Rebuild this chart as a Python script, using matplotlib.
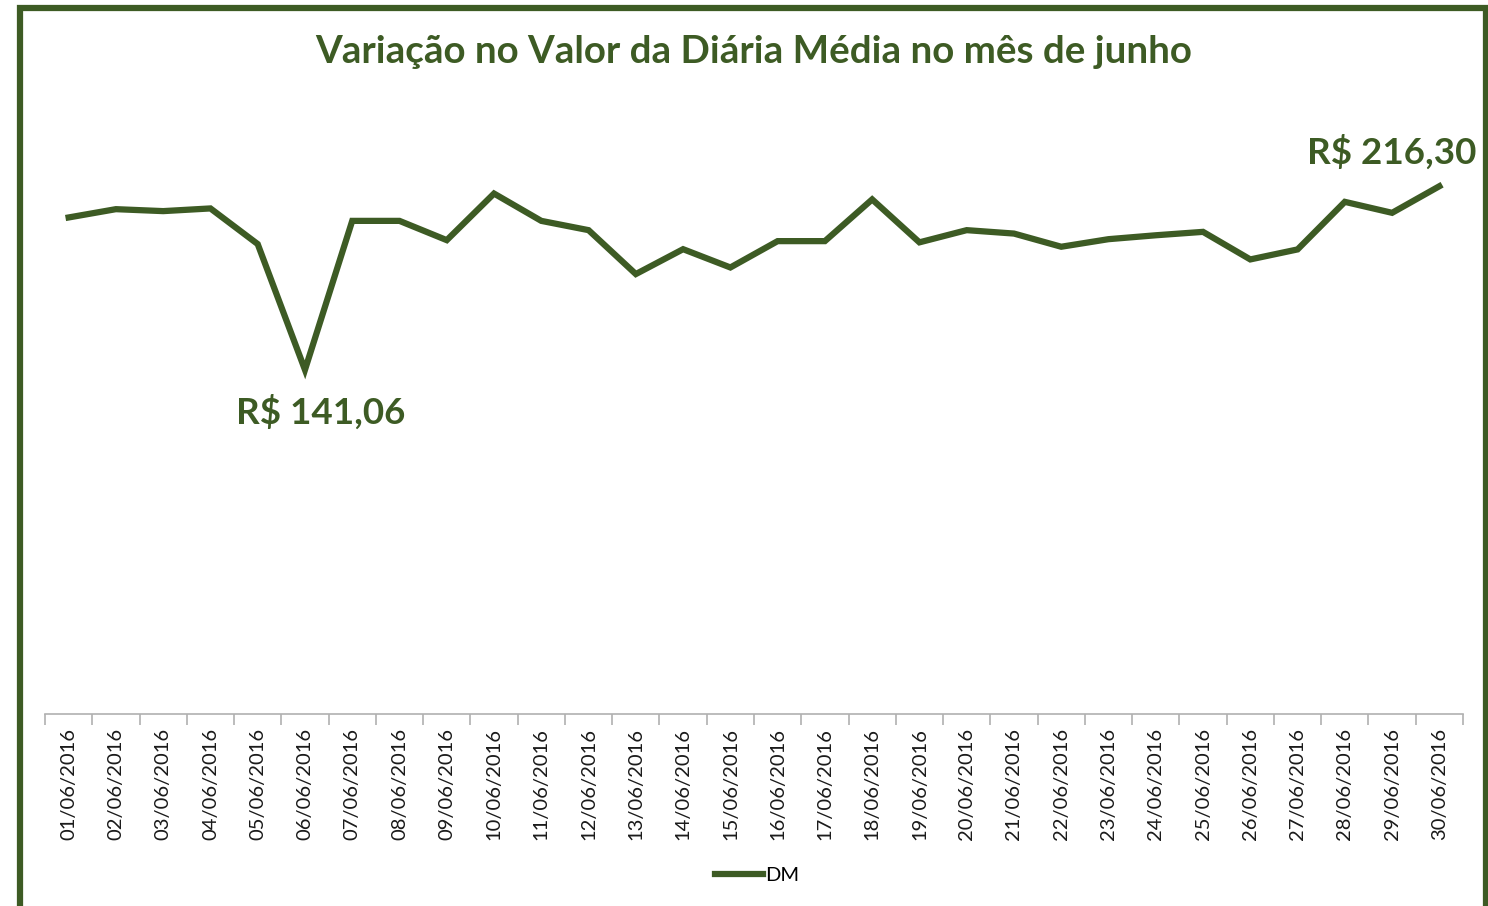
import matplotlib
matplotlib.use('Agg')
import matplotlib.pyplot as plt
from matplotlib.patches import Rectangle
import numpy as np

plt.rcParams['font.family'] = ['Lato', 'DejaVu Sans']

# dados
dias = ['%02d/06/2016' % d for d in range(1, 31)]
dm = [203.5, 206.9, 206.1, 207.2, 192.6, 141.06, 202.1, 202.1, 194.2, 213.3,
      202.1, 198.3, 180.3, 190.5, 183.0, 193.8, 193.8, 210.9, 193.3, 198.3,
      196.9, 191.5, 194.6, 196.2, 197.6, 186.3, 190.4, 209.9, 205.4, 216.30]
titulo = 'Variação no Valor da Diária Média no mês de junho'
verde = '#3D5B24'

W, H = 1488, 906
fig = plt.figure(figsize=(W / 100, H / 100), dpi=100)
fig.patch.set_facecolor('white')

# moldura verde (cortada embaixo)
fig.patches.append(Rectangle((20 / W, -20 / H), (1485.5 - 20) / W, (H - 8 + 20) / H,
                             transform=fig.transFigure, fill=False,
                             edgecolor=verde, linewidth=4.5, zorder=10))

ax = fig.add_axes([45 / W, 192 / H, 1418 / W, 610 / H])
x = np.arange(len(dias))
ax.plot(x, dm, color=verde, linewidth=4.5, solid_joinstyle='miter', label='DM')
ax.set_xlim(-0.5, len(dias) - 0.5)
ax.set_ylim(0, 250)

for s in ['top', 'right', 'left']:
    ax.spines[s].set_visible(False)
ax.spines['bottom'].set_color('#b0b0b0')
ax.spines['bottom'].set_linewidth(1.2)
ax.set_yticks([])

ax.set_xticks(x)
ax.set_xticklabels(dias, rotation=90, fontsize=14.5, color='#1a1a1a')
ax.tick_params(axis='x', which='major', length=0, pad=10)
ax.set_xticks(np.arange(-0.5, len(dias)), minor=True)
ax.tick_params(axis='x', which='minor', length=8, color='#b0b0b0', width=1.2)

i_min = int(np.argmin(dm))
i_max = int(np.argmax(dm))
ax.annotate('R$ 141,06', (x[i_min], dm[i_min]), xytext=(16, -42),
            textcoords='offset pixels', ha='center', va='center',
            fontsize=26.5, fontweight='bold', color=verde)
ax.annotate('R$ 216,30', (x[i_max], dm[i_max]), xytext=(-48, 34),
            textcoords='offset pixels', ha='center', va='center',
            fontsize=26.5, fontweight='bold', color=verde)

fig.text(754 / W, 1 - 52 / H, titulo, ha='center', va='center',
         fontsize=27.7, fontweight='bold', color=verde)

fig.legend(loc='center', bbox_to_anchor=(757 / W, 1 - 875 / H), frameon=False,
           fontsize=14.5, handlelength=2.4, handletextpad=0.1)

fig.savefig('out.png', dpi=100)
